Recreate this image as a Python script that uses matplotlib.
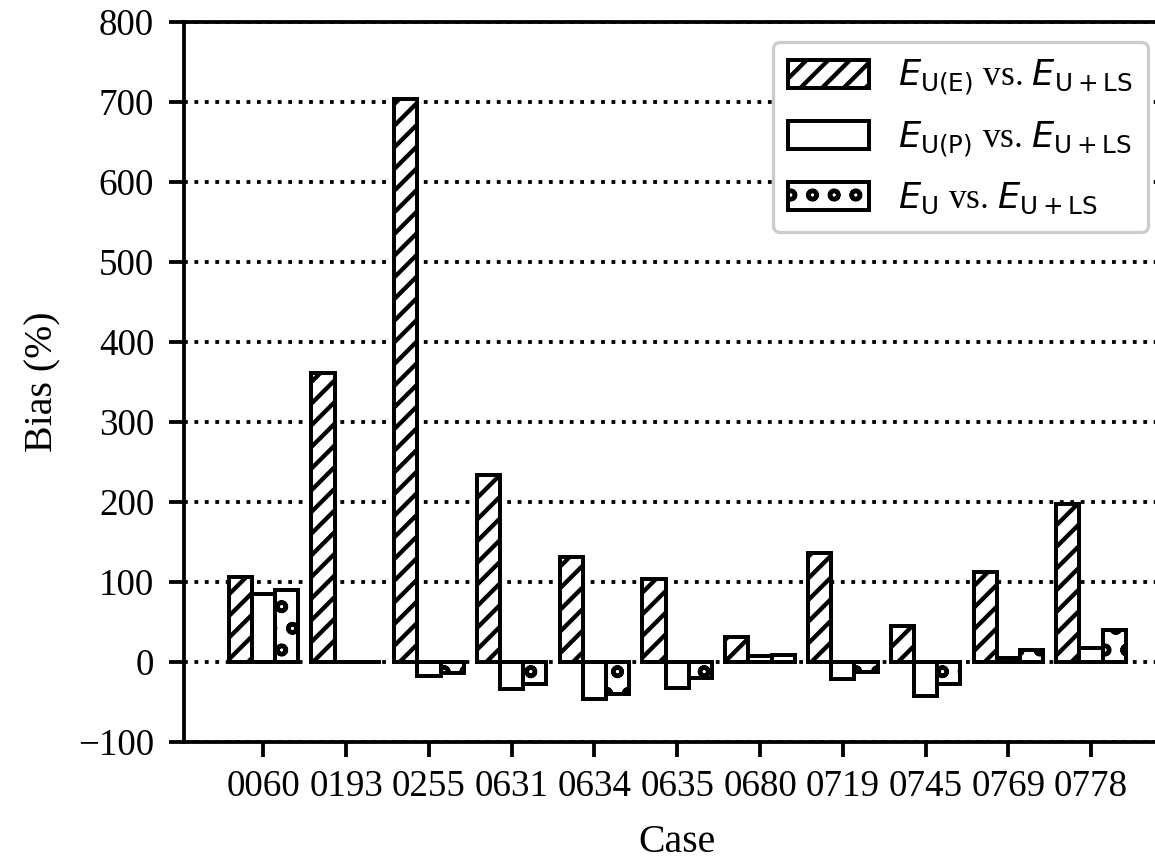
import matplotlib
matplotlib.use("Agg")
import matplotlib.pyplot as plt
import numpy as np

cases = ["0060", "0193", "0255", "0631", "0634", "0635", "0680", "0719", "0745", "0769", "0778"]
bias_ue = [106, 361, 704, 234, 131, 104, 31, 136, 45, 112, 197]
bias_up = [85, 0, -17, -34, -46, -32, 7, -21, -43, 5, 17]
bias_u = [90, 0, -14, -27, -40, -20, 9, -13, -27, 15, 40]
labels = [r"$E_{\mathrm{U(E)}}$ vs. $E_{\mathrm{U+LS}}$",
          r"$E_{\mathrm{U(P)}}$ vs. $E_{\mathrm{U+LS}}$",
          r"$E_{\mathrm{U}}$ vs. $E_{\mathrm{U+LS}}$"]
yticks = [-100, 0, 100, 200, 300, 400, 500, 600, 700, 800]

plt.rcParams["font.family"] = ["Liberation Serif", "DejaVu Serif"]
plt.rcParams["mathtext.fontset"] = "dejavusans"
plt.rcParams["hatch.linewidth"] = 2.4
plt.rcParams["axes.linewidth"] = 2.1

DPI = 130
fig = plt.figure(figsize=(1155 / DPI, 864 / DPI), dpi=DPI)
W, H = 1155, 864
left, right, top, bottom = 184, 1170.5, 22, 742
ax = fig.add_axes([left / W, 1 - bottom / H, (right - left) / W, (bottom - top) / H])

x = np.arange(len(cases))
w = 0.28
elw = 2.2
ax.bar(x - w, bias_ue, w, color="white", edgecolor="black", linewidth=elw, hatch="//", label=labels[0], zorder=3)
ax.bar(x, bias_up, w, color="white", edgecolor="black", linewidth=elw, label=labels[1], zorder=3)
ax.bar(x + w, bias_u, w, color="white", edgecolor="black", linewidth=elw, hatch="o", label=labels[2], zorder=3)

ax.set_xlim(-0.96, 10.96)
ax.set_ylim(-100, 800)
ax.set_yticks(yticks)
ax.set_xticks(x)
ax.set_xticklabels(cases)
ax.yaxis.grid(True, color="black", linestyle=(0, (1.0, 1.75)), linewidth=2.1)
ax.set_axisbelow(True)

ax.tick_params(axis="both", labelsize=20.5, width=2.1, length=8.5)
ax.tick_params(axis="y", pad=8)
ax.tick_params(axis="x", pad=7)
ax.set_xlabel("Case", fontsize=22, labelpad=11)
ax.set_ylabel("Bias (%)", fontsize=22, labelpad=9)

leg = ax.legend(loc="upper right", bbox_to_anchor=(1148 / W, 1 - 42 / H), bbox_transform=fig.transFigure,
                borderaxespad=0, fontsize=19.5, handlelength=2.3, handleheight=0.85, framealpha=1,
                edgecolor="0.8", fancybox=True, borderpad=0.45, labelspacing=0.62, handletextpad=0.8)
leg.get_frame().set_linewidth(1.8)

fig.savefig("out.png", dpi=DPI)
